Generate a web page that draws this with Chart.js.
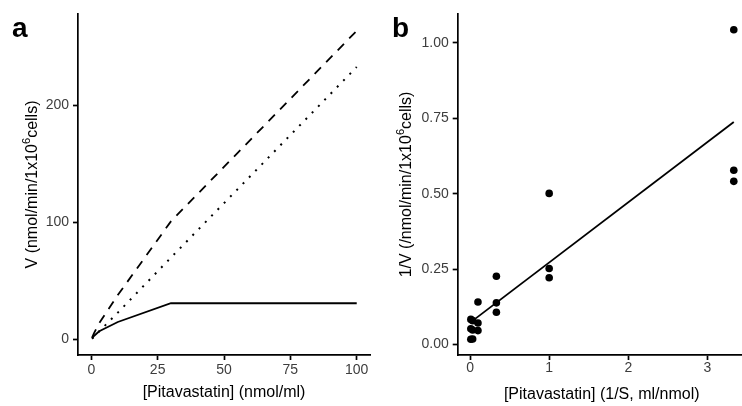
<!DOCTYPE html>
<html>
<head>
<meta charset="utf-8">
<script src="https://cdn.jsdelivr.net/npm/chart.js@4.4.1/dist/chart.umd.min.js"></script>
<style>
  html, body { margin: 0; padding: 0; background: #fff; overflow: hidden; width: 742px; height: 406px; }
  .panel { position: absolute; top: 0; height: 406px; }
  #wrapA { left: 0; width: 372px; }
  #wrapB { left: 372px; width: 380px; }
</style>
</head>
<body>
<div class="panel" id="wrapA"><canvas id="chartA" width="372" height="406"></canvas></div>
<div class="panel" id="wrapB"><canvas id="chartB" width="380" height="406"></canvas></div>
<script>
// ---------- data: panel a (V vs concentration) ----------
const concA = [0.3, 1, 3, 10, 30, 100];
const vSaturable = [1, 3, 7, 15, 31, 31];
const vNonSat = [0.7, 2.3, 7, 23, 70, 233];
const vTotal = [1.7, 5.3, 14, 38, 101, 264];
const xTicksA = [0, 25, 50, 75, 100];
const yTicksA = [0, 100, 200];

// ---------- data: panel b (double reciprocal) ----------
const invS = [3.333, 3.333, 3.333, 1, 1, 1, 0.333, 0.333, 0.333,
              0.1, 0.1, 0.1, 0.033, 0.033, 0.033, 0.01, 0.01, 0.01];
const invV = [1.044, 0.578, 0.541, 0.501, 0.252, 0.221, 0.226, 0.138, 0.107,
              0.141, 0.071, 0.046, 0.079, 0.048, 0.018, 0.083, 0.052, 0.017];
const fitX = [0.01, 3.333];
const fitY = [0.074, 0.738];
const xTicksB = [0, 1, 2, 3];
const yTicksB = [0, 0.25, 0.5, 0.75, 1.0];

const FONT = "'Liberation Sans', Arial, sans-serif";
const TICK_COLOR = "#3d3d3d";
const AXIS_W = 1.7;

const pts = (xs, ys) => xs.map((x, i) => ({ x, y: ys[i] }));

// axis titles + panel letter, drawn so the superscript 6 works
const titlesPlugin = {
  id: "titles",
  afterDraw(chart, args, o) {
    const ctx = chart.ctx;
    ctx.save();
    ctx.fillStyle = "#000";
    ctx.textBaseline = "alphabetic";
    ctx.textAlign = "left";
    ctx.font = `bold 28px ${FONT}`;
    ctx.fillText(o.letter, o.letterX, o.letterY);

    ctx.font = `16px ${FONT}`;
    ctx.textAlign = "center";
    ctx.textBaseline = "middle";
    ctx.fillText(o.xTitle, o.xTitleX, o.xTitleY);

    // rotated y title with superscript
    ctx.translate(o.yTitleX, o.yTitleY);
    ctx.rotate(-Math.PI / 2);
    ctx.textAlign = "left";
    const big = `16px ${FONT}`, small = `11px ${FONT}`;
    let total = 0;
    o.yTitle.forEach((p) => {
      ctx.font = p.sup ? small : big;
      total += ctx.measureText(p.t).width;
    });
    let x = -total / 2;
    o.yTitle.forEach((p) => {
      ctx.font = p.sup ? small : big;
      ctx.fillText(p.t, x, p.sup ? -6 : 0);
      x += ctx.measureText(p.t).width;
    });
    ctx.restore();
  },
};

function axis(min, max, tickVals, fmt, fit, pad) {
  return {
    type: "linear",
    min,
    max,
    afterBuildTicks: (s) => { s.ticks = tickVals.map((v) => ({ value: v })); },
    afterFit: fit,
    grid: { drawOnChartArea: false, drawTicks: true, tickLength: 5, tickColor: "#000", tickWidth: AXIS_W },
    border: { display: true, color: "#000", width: AXIS_W },
    ticks: { color: TICK_COLOR, font: { family: FONT, size: 14 }, padding: pad, callback: fmt },
  };
}

const common = {
  responsive: false,
  animation: false,
  events: [],
  plugins: { legend: { display: false }, tooltip: { enabled: false } },
};

// ---------- panel a ----------
new Chart(document.getElementById("chartA"), {
  type: "scatter",
  data: {
    datasets: [
      { data: pts(concA, vSaturable), showLine: true, borderColor: "#000", borderWidth: 1.8, pointRadius: 0, tension: 0 },
      { data: pts(concA, vNonSat), showLine: true, borderColor: "#000", borderWidth: 2, borderDash: [2, 7], pointRadius: 0, tension: 0 },
      { data: pts(concA, vTotal), showLine: true, borderColor: "#000", borderWidth: 1.8, borderDash: [9, 7.5], pointRadius: 0, tension: 0 },
    ],
  },
  options: {
    ...common,
    layout: { padding: { left: 0, top: 14, right: 2, bottom: 0 } },
    scales: {
      x: axis(-5, 105, xTicksA, (v) => String(v), (s) => { s.height = 51; }, 2),
      y: axis(-13.25, 278.3, yTicksA, (v) => String(v), (s) => { s.width = 78; }, 4),
    },
    plugins: {
      ...common.plugins,
      titles: {
        letter: "a", letterX: 12, letterY: 37,
        xTitle: "[Pitavastatin] (nmol/ml)", xTitleX: 224, xTitleY: 393,
        yTitle: [{ t: "V (nmol/min/1x10" }, { t: "6", sup: true }, { t: "cells)" }],
        yTitleX: 33, yTitleY: 184.5,
      },
    },
  },
  plugins: [titlesPlugin],
});

// ---------- panel b ----------
new Chart(document.getElementById("chartB"), {
  type: "scatter",
  data: {
    datasets: [
      { data: pts(fitX, fitY), showLine: true, borderColor: "#000", borderWidth: 1.8, pointRadius: 0, tension: 0 },
      { data: pts(invS, invV), showLine: false, backgroundColor: "#000", borderWidth: 0, pointRadius: 3.8 },
    ],
  },
  options: {
    ...common,
    layout: { padding: { left: 0, top: 14, right: 5, bottom: 0 } },
    scales: {
      x: axis(-0.156, 3.5, xTicksB, (v) => String(v), (s) => { s.height = 51; }, 0),
      y: axis(-0.035, 1.096, yTicksB, (v) => v.toFixed(2), (s) => { s.width = 85.7; }, 4),
    },
    plugins: {
      ...common.plugins,
      titles: {
        letter: "b", letterX: 20, letterY: 37,
        xTitle: "[Pitavastatin] (1/S, ml/nmol)", xTitleX: 229.7, xTitleY: 395,
        yTitle: [{ t: "1/V (/nmol/min/1x10" }, { t: "6", sup: true }, { t: "cells)" }],
        yTitleX: 35, yTitleY: 184.5,
      },
    },
  },
  plugins: [titlesPlugin],
});
</script>
</body>
</html>
